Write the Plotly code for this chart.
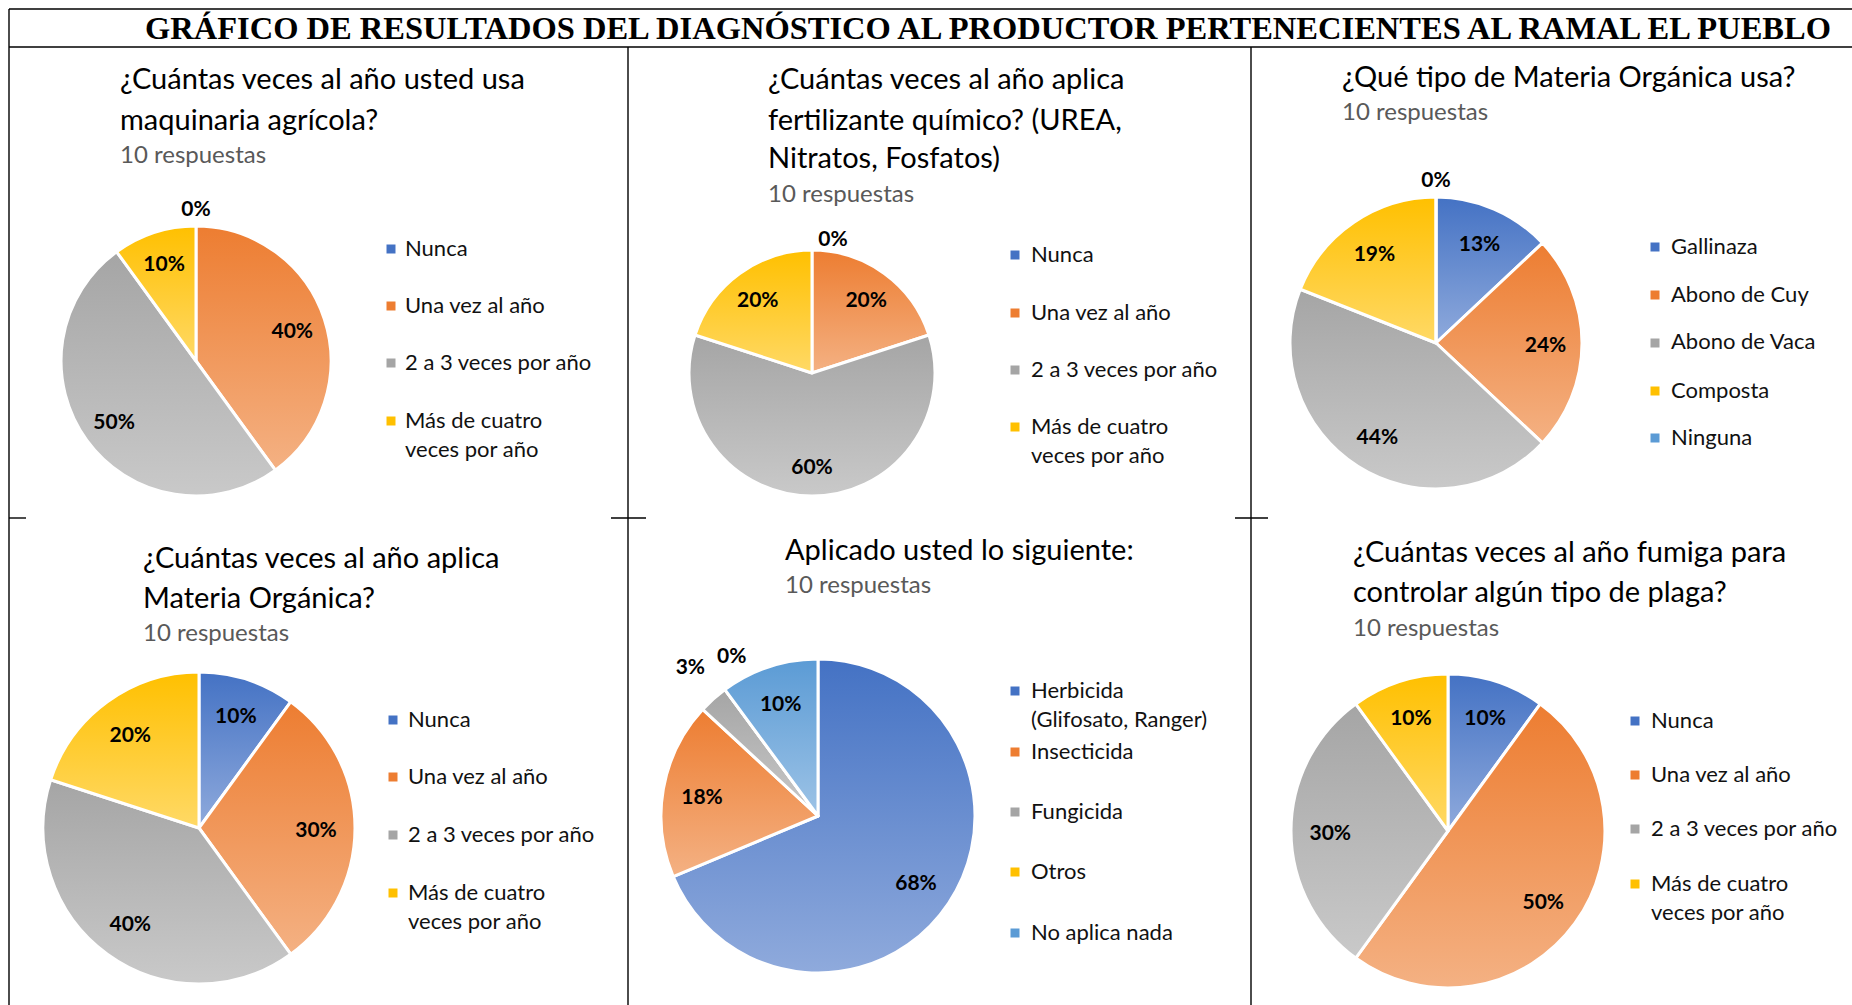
import json
import plotly.graph_objects as go

W, H = 1852, 1040

SANS = "Lato"
SERIF = "Liberation Serif"

# Office theme colours and their lighter tints (gradient bottom)
AZUL, NARANJA, GRIS, AMARILLO, CELESTE = "#4472C4", "#ED7D31", "#A5A5A5", "#FFC000", "#5B9BD5"
TINTE = {AZUL: "#8FAADC", NARANJA: "#F4B183", GRIS: "#C9C9C9", AMARILLO: "#FFD966", CELESTE: "#9DC3E6"}

titulo_general = "GRÁFICO DE RESULTADOS DEL DIAGNÓSTICO AL PRODUCTOR PERTENECIENTES AL RAMAL EL PUEBLO"
respuestas = "10 respuestas"

frecuencia = ["Nunca", "Una vez al año", "2 a 3 veces por año", "Más de cuatro<br>veces por año"]
colores_frecuencia = [AZUL, NARANJA, GRIS, AMARILLO]

maquinaria_titulo = ["¿Cuántas veces al año usted usa", "maquinaria agrícola?"]
maquinaria_pct = [0, 40, 50, 10]

fertilizante_titulo = ["¿Cuántas veces al año aplica", "fertilizante químico? (UREA,", "Nitratos, Fosfatos)"]
fertilizante_pct = [0, 20, 60, 20]

tipo_mo_titulo = ["¿Qué tipo de Materia Orgánica usa?"]
tipo_mo_categorias = ["Gallinaza", "Abono de Cuy", "Abono de Vaca", "Composta", "Ninguna"]
tipo_mo_pct = [13, 24, 44, 19, 0]

aplica_mo_titulo = ["¿Cuántas veces al año aplica", "Materia Orgánica?"]
aplica_mo_pct = [10, 30, 40, 20]

aplicado_titulo = ["Aplicado usted lo siguiente:"]
aplicado_categorias = ["Herbicida<br>(Glifosato, Ranger)", "Insecticida", "Fungicida", "Otros", "No aplica nada"]
aplicado_pct = [68, 18, 3, 0, 10]

fumiga_titulo = ["¿Cuántas veces al año fumiga para", "controlar algún tipo de plaga?"]
fumiga_pct = [10, 50, 30, 10]

colores_cinco = [AZUL, NARANJA, GRIS, AMARILLO, CELESTE]


def px(x):
    return x / W


def py(y):
    return 1 - y / H


# panel layout (pixel positions inside the page)
paneles = [
    dict(titulo=maquinaria_titulo, cats=frecuencia, vals=maquinaria_pct, cols=colores_frecuencia,
         c=(196, 361), r=135, tx=118, ty=[78, 118], ry=153, lx=391, ltx=403, ly=[247, 304, 361, 419]),
    dict(titulo=fertilizante_titulo, cats=frecuencia, vals=fertilizante_pct, cols=colores_frecuencia,
         c=(812, 373), r=123, tx=766, ty=[78, 118, 156], ry=192, lx=1015, ltx=1029, ly=[253, 311, 368, 425]),
    dict(titulo=tipo_mo_titulo, cats=tipo_mo_categorias, vals=tipo_mo_pct, cols=colores_cinco,
         c=(1436, 343), r=146, tx=1340, ty=[76], ry=111, lx=1655, ltx=1669, ly=[245, 293, 341, 389, 436]),
    dict(titulo=aplica_mo_titulo, cats=frecuencia, vals=aplica_mo_pct, cols=colores_frecuencia,
         c=(199, 828), r=156, tx=141, ty=[556, 596], ry=631, lx=393, ltx=406, ly=[718, 775, 833, 891]),
    dict(titulo=aplicado_titulo, cats=aplicado_categorias, vals=aplicado_pct, cols=colores_cinco,
         c=(818, 816), r=157, tx=783, ty=[548], ry=583, lx=1015, ltx=1029, ly=[689, 750, 810, 870, 931]),
    dict(titulo=fumiga_titulo, cats=frecuencia, vals=fumiga_pct, cols=colores_frecuencia,
         c=(1448, 831), r=157, tx=1351, ty=[550, 590], ry=626, lx=1635, ltx=1649, ly=[719, 773, 827, 882]),
]

fig = go.Figure()
annotations = []
shapes = []


def dominio(cx, cy, r):
    clamp = lambda v: min(1.0, max(0.0, v))
    return dict(x=[clamp(px(cx - r)), clamp(px(cx + r))], y=[clamp(py(cy + r)), clamp(py(cy - r))])


ETIQUETA = dict(family=SANS, size=21, color="black", weight=700)


def capa_etiquetas(p, mostrar, posicion, pull=0, escala=1.0, giro=0):
    """Transparent ring that only carries percentage labels for the chosen slices."""
    cx, cy = p["c"]
    n = len(p["vals"])
    fig.add_trace(go.Pie(
        labels=p["cats"], values=p["vals"], sort=False, direction="clockwise", rotation=giro,
        hole=0.5, pull=[pull if m else 0 for m in mostrar],
        marker=dict(colors=["rgba(0,0,0,0)"] * n, line=dict(width=0)),
        texttemplate=["%{value}%" if m else "" for m in mostrar],
        textposition=posicion,
        insidetextorientation="horizontal",
        textfont=ETIQUETA, outsidetextfont=ETIQUETA,
        hoverinfo="skip", showlegend=False,
        domain=dominio(cx, cy, p["r"] * escala),
    ))


for i, p in enumerate(paneles):
    cx, cy = p["c"]
    r = p["r"]
    vals = p["vals"]
    n = len(vals)
    # filled slices
    fig.add_trace(go.Pie(
        labels=p["cats"], values=vals, sort=False, direction="clockwise", rotation=0,
        marker=dict(colors=p["cols"], line=dict(color="white", width=3)),
        textinfo="none", hoverinfo="label+percent", showlegend=False,
        domain=dominio(cx, cy, r),
    ))
    ceros = [v == 0 for v in vals]
    if i in (0, 2):
        # slice labels, then the empty-slice label centred above the pie
        capa_etiquetas(p, [not z for z in ceros], ["inside"] * n)
        capa_etiquetas(p, ceros, ["inside"] * n, escala=(r + 19) / r)
    elif i == 4:
        # large slices inside; the two thin ones outside, each on its own ring
        capa_etiquetas(p, [v > 3 for v in vals], ["inside"] * n)
        capa_etiquetas(p, [v == 3 for v in vals], ["outside"] * n, pull=0.134, escala=1.134, giro=5)
        capa_etiquetas(p, ceros, ["outside"] * n, pull=0.05, escala=1.05, giro=13)
    else:
        capa_etiquetas(p, [True] * n, ["outside" if v == 0 else "inside" for v in vals])

    # title and subtitle
    for linea, y in zip(p["titulo"], p["ty"]):
        annotations.append(dict(text=linea, x=px(p["tx"]), y=py(y), xref="paper", yref="paper",
                                xanchor="left", yanchor="middle", showarrow=False,
                                font=dict(family=SANS, size=29, color="black")))
    annotations.append(dict(text=respuestas, x=px(p["tx"]), y=py(p["ry"]), xref="paper", yref="paper",
                            xanchor="left", yanchor="middle", showarrow=False,
                            font=dict(family=SANS, size=24, color="#595959")))
    # legend entries
    for cat, col, y in zip(p["cats"], p["cols"], p["ly"]):
        s = 4.5
        shapes.append(dict(type="rect", xref="paper", yref="paper",
                           x0=px(p["lx"] - s), x1=px(p["lx"] + s), y0=py(y + 2 + s), y1=py(y + 2 - s),
                           fillcolor=col, line=dict(width=0)))
        for k, parte in enumerate(cat.split("<br>")):
            annotations.append(dict(text=parte, x=px(p["ltx"]), y=py(y + 29 * k), xref="paper", yref="paper",
                                    xanchor="left", yanchor="middle", showarrow=False,
                                    font=dict(family=SANS, size=22, color="#111111")))

# page heading
annotations.append(dict(text=titulo_general, x=px(988), y=py(28), xref="paper", yref="paper",
                        xanchor="center", yanchor="middle", showarrow=False,
                        font=dict(family=SERIF, size=32.5, color="black", weight=700)))

# table rules
def linea(x0, y0, x1, y1):
    shapes.append(dict(type="line", xref="paper", yref="paper", x0=px(x0), y0=py(y0), x1=px(x1), y1=py(y1),
                       line=dict(color="black", width=1.4)))

linea(9, 9, W, 9)
linea(9, 47, W, 47)
linea(9, 9, 9, H)
linea(628, 47, 628, H)
linea(1251, 47, 1251, H)
linea(9, 518, 26, 518)
linea(611, 518, 646, 518)
linea(1235, 518, 1268, 518)

fig.update_layout(
    width=W, height=H, autosize=False, margin=dict(l=0, r=0, t=0, b=0, pad=0),
    paper_bgcolor="white", plot_bgcolor="white",
    annotations=annotations, shapes=shapes,
    uniformtext=dict(minsize=21, mode="show"),
    showlegend=False,
)

# vertical gradient fill per slice: base colour at the top, lighter tint at the bottom
def rgb_key(h):
    h = h.lstrip("#")
    return "rgb(%d,%d,%d)" % (int(h[0:2], 16), int(h[2:4], 16), int(h[4:6], 16))

degradados = {rgb_key(base): [base, tinte] for base, tinte in TINTE.items()}

post = """
var gd = document.getElementById('{plot_id}');
var grads = """ + json.dumps(degradados) + """;
var NS = 'http://www.w3.org/2000/svg';
var svg = gd.querySelector('svg.main-svg');
var defs = svg.querySelector('defs');
var k = 0;
gd.querySelectorAll('.pielayer path.surface').forEach(function (p) {
  var f = (p.style.fill || '').replace(/\\s/g, '');
  var g = grads[f];
  if (!g) return;
  var id = 'degradado' + (k++);
  var lg = document.createElementNS(NS, 'linearGradient');
  lg.setAttribute('id', id);
  lg.setAttribute('x1', '0'); lg.setAttribute('y1', '0');
  lg.setAttribute('x2', '0'); lg.setAttribute('y2', '1');
  [[0, g[0]], [1, g[1]]].forEach(function (s) {
    var st = document.createElementNS(NS, 'stop');
    st.setAttribute('offset', s[0]);
    st.setAttribute('stop-color', s[1]);
    lg.appendChild(st);
  });
  defs.appendChild(lg);
  p.style.fill = 'url(#' + id + ')';
});
"""

fig.write_html("out.html", post_script=post,
               config={"responsive": False, "displayModeBar": False})
